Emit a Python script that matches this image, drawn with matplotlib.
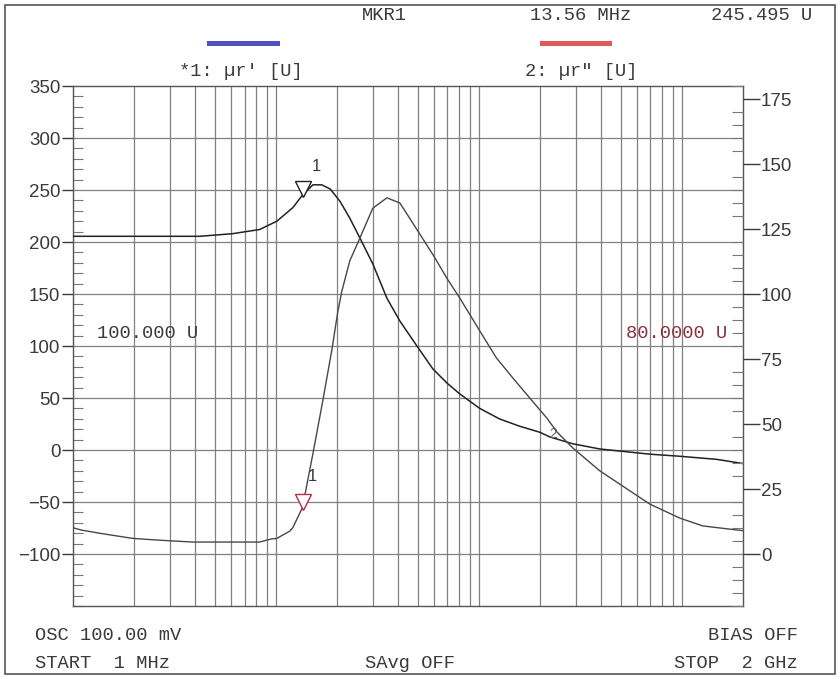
import numpy as np
import matplotlib
matplotlib.use("Agg")
import matplotlib.pyplot as plt
from matplotlib.ticker import MultipleLocator, NullLocator
from matplotlib.patches import Rectangle
from matplotlib.transforms import offset_copy

# trace 1: mu_r' (left axis), frequency in MHz
f1 = [1, 2, 4.2, 6.1, 7.45, 8.3, 10.1, 12.1, 13.56, 15.2, 16.8, 18.5, 20.7, 23.1,
      25.9, 30, 32.5, 35.2, 40.8, 49.5, 59.3, 69.6, 80.4, 90, 101, 126, 158, 200,
      224, 290, 394, 695, 977, 1487, 2000]
mu1 = [205.5, 205.5, 205.5, 208, 210.6, 212, 220, 233, 245.5, 255, 255, 251, 239,
       223, 204, 179, 162.5, 146, 124, 100, 78, 64.4, 54, 47, 40, 30, 23, 17,
       12.5, 6, 1, -4, -6, -9, -13]

# trace 2: mu_r'' (right axis)
f2 = [1, 1.1, 1.4, 1.97, 2.68, 3.9, 8.3, 9.5, 10.1, 11.7, 12.1, 13.5, 15.2, 17,
      18.9, 20.2, 21.1, 23.1, 25.9, 30, 35.2, 40.8, 51.2, 60.6, 69.6, 80.4, 101,
      122, 147, 178, 216, 242, 290, 394, 695, 977, 1268, 1888, 2000]
mu2 = [10.1, 9.2, 7.8, 6.0, 5.3, 4.6, 4.6, 5.8, 6.0, 8.8, 10.1, 17.8, 38.5, 58.8,
       79, 93.5, 101, 112.7, 121.5, 133, 137, 135, 123, 114, 106, 98.5, 85.8,
       75.4, 67.7, 60, 52.3, 47, 40.8, 32, 19.2, 13.8, 10.8, 9.2, 9.0]

mkr_f = 13.56
mkr1_val = 245.495
mkr2_val = 17.8

left_ticks = [-100, -50, 0, 50, 100, 150, 200, 250, 300, 350]
right_ticks = [0, 25, 50, 75, 100, 125, 150, 175]

mono = "Liberation Mono"
sans = "Liberation Sans"
ink = "#3a3a3a"
fs = 13.5

fig = plt.figure(figsize=(8.4, 6.79), dpi=100)
fig.patches.append(Rectangle((0.006, 0.008), 0.988, 0.984, transform=fig.transFigure,
                             fill=False, edgecolor="#555555", lw=1.2))

ax = fig.add_axes([0.0869, 0.1075, 0.7976, 0.7658])
ax.set_xscale("log")
ax.set_xlim(1, 2000)
ax.set_ylim(-150, 350)
ax.xaxis.set_major_locator(NullLocator())
ax.xaxis.set_minor_locator(NullLocator())
ax.set_yticks(left_ticks)
ax.yaxis.set_minor_locator(MultipleLocator(10))
ax.tick_params(axis="y", which="major", direction="out", length=8, width=1,
               pad=1, labelsize=13.5, colors=ink)
ax.tick_params(axis="y", which="minor", direction="in", length=7, width=0.8,
               color="#777777")
for lab in ax.get_yticklabels():
    lab.set_fontfamily(sans)

# grid
for y in range(-100, 350, 50):
    ax.axhline(y, color="#808080", lw=0.9, zorder=1)
for dec in [1, 10, 100, 1000]:
    for m in range(1, 10):
        v = dec * m
        if 1 < v < 2000:
            ax.axvline(v, color="#808080", lw=0.9, zorder=1)
for s in ax.spines.values():
    s.set_color("#555555")
    s.set_linewidth(1)

ax2 = ax.twinx()
ax2.set_ylim(-20, 180)
ax2.set_yticks(right_ticks)
ax2.yaxis.set_minor_locator(MultipleLocator(5))
ax2.tick_params(axis="y", which="major", direction="out", length=12, width=1,
                pad=1, labelsize=13.5, colors=ink)
ax2.tick_params(axis="y", which="minor", direction="in", length=8, width=0.8,
                color="#777777")
for lab in ax2.get_yticklabels():
    lab.set_fontfamily(sans)
for s in ax2.spines.values():
    s.set_visible(False)

ax.plot(f1, mu1, color="#222222", lw=1.1, zorder=3)
ax2.plot(f2, mu2, color="#474747", lw=1.0, zorder=3)

# markers
tr1 = offset_copy(ax.transData, fig=fig, y=6, units="dots")
ax.plot([mkr_f], [mkr1_val], marker="v", ms=11, mfc="white", mec="#222222",
        mew=1, transform=tr1, zorder=4)
ax.text(15.0, 268, "1", fontsize=12, fontfamily=sans, color=ink, zorder=5)
tr2 = offset_copy(ax2.transData, fig=fig, y=6, units="dots")
ax2.plot([mkr_f], [mkr2_val], marker="v", ms=11, mfc="white", mec="#b03040",
         mew=1, transform=tr2, zorder=4)
ax2.text(14.3, 28, "1", fontsize=12, fontfamily=sans, color=ink, zorder=5)
ax.text(232, 12, "2", fontsize=10, fontfamily=sans, color="#666666",
        ha="center", zorder=5)

# reference level labels
ax.text(1.31, 108, "100.000 U", fontsize=fs, fontfamily=mono, color=ink)
ax.text(1667, 108, "80.0000 U", fontsize=fs, fontfamily=mono, color="#8a3040",
        ha="right")

# header
fig.text(384 / 840, 1 - 16 / 679, "MKR1", fontsize=fs, fontfamily=mono, color=ink,
         ha="center", va="center")
fig.text(581 / 840, 1 - 16 / 679, "13.56 MHz", fontsize=fs, fontfamily=mono,
         color=ink, ha="center", va="center")
fig.text(762 / 840, 1 - 16 / 679, "245.495 U", fontsize=fs, fontfamily=mono,
         color=ink, ha="center", va="center")
fig.patches.append(Rectangle((207 / 840, 1 - 46 / 679), 73 / 840, 5 / 679,
                             transform=fig.transFigure, color="#5050c0", lw=0))
fig.patches.append(Rectangle((540 / 840, 1 - 46 / 679), 72 / 840, 5 / 679,
                             transform=fig.transFigure, color="#e05858", lw=0))
fig.text(241 / 840, 1 - 72 / 679, "*1: \u00b5r' [U]", fontsize=fs, fontfamily=mono,
         color=ink, ha="center", va="center")
fig.text(581 / 840, 1 - 72 / 679, "2: \u00b5r\" [U]", fontsize=fs, fontfamily=mono,
         color=ink, ha="center", va="center")

# footer
fig.text(35 / 840, 1 - 636 / 679, "OSC 100.00 mV", fontsize=fs, fontfamily=mono,
         color=ink, va="center")
fig.text(35 / 840, 1 - 663 / 679, "START  1 MHz", fontsize=fs, fontfamily=mono,
         color=ink, va="center")
fig.text(410 / 840, 1 - 663 / 679, "SAvg OFF", fontsize=fs, fontfamily=mono,
         color=ink, ha="center", va="center")
fig.text(798 / 840, 1 - 636 / 679, "BIAS OFF", fontsize=fs, fontfamily=mono,
         color=ink, ha="right", va="center")
fig.text(798 / 840, 1 - 663 / 679, "STOP  2 GHz", fontsize=fs, fontfamily=mono,
         color=ink, ha="right", va="center")

fig.savefig("out.png", dpi=100)
